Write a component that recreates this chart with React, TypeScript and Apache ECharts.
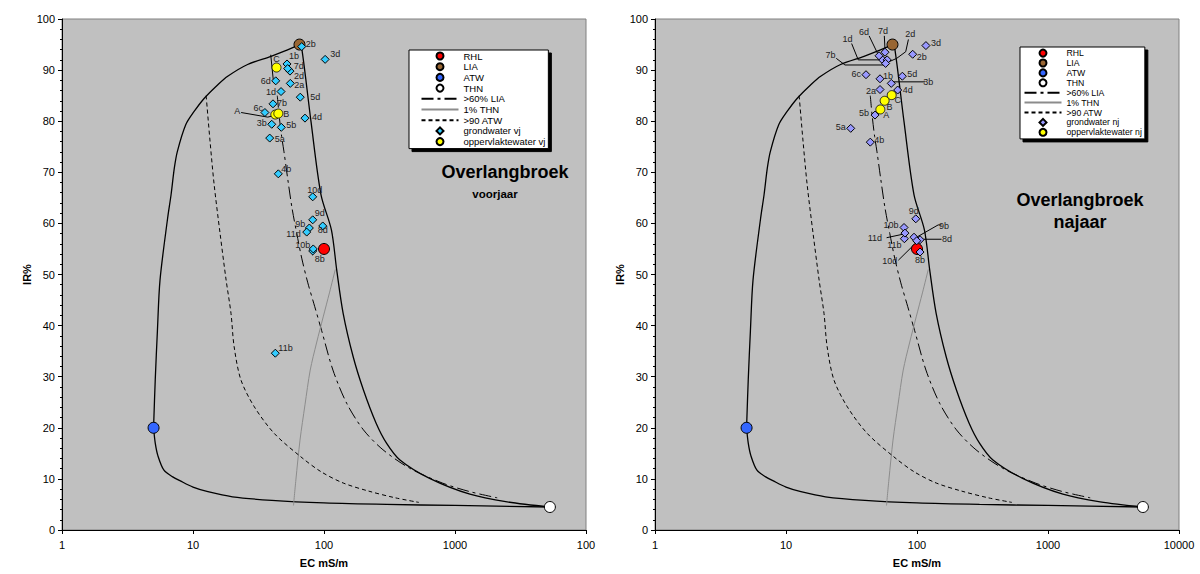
import { useEffect, useRef } from "react";
import * as echarts from "echarts";

const FONT = "'Liberation Sans', Arial, Helvetica, sans-serif";

// End members (EC in mS/m, IR in %)
const endmemberNames = ["RHL", "LIA", "ATW", "THN"];
const endmemberEC = [100, 65, 5, 5300];
const endmemberIR = [55, 95, 20, 4.5];
const endmemberColors = ["#ff0000", "#996633", "#3366ff", "#ffffff"];

// Groundwater samples
const wellNames = ["1b", "1d", "2a", "2b", "2d", "3b", "3d", "4b", "4d", "5a", "5b", "5d", "6c", "6d", "7b", "7d", "8b", "8d", "9b", "9d", "10b", "10d", "11b", "11d"];
const wellSpringEC = [52.2, 47.0, 55.3, 67.6, 55.0, 39.9, 102, 44.8, 71.6, 38.5, 47.2, 65.9, 35.4, 42.8, 40.8, 52.8, 82, 97.8, 77.3, 82, 82.8, 82, 42.5, 73.8];
const wellSpringIR = [91.2, 85.8, 87.4, 94.6, 89.8, 79.4, 92.1, 69.7, 80.6, 76.7, 78.8, 84.7, 81.7, 87.9, 83.4, 90.3, 54.6, 59.5, 59.1, 60.7, 55.0, 65.2, 34.6, 58.3];
const wellAutumnEC = [52.2, 54.6, 52.2, 92.7, 59.2, 63.6, 117, 44.0, 71.2, 31.2, 47.8, 77.3, 40.8, 51.3, 57.6, 57.0, 105.5, 105.5, 94.9, 97.9, 79.6, 99.5, 80.1, 80.9];
const wellAutumnIR = [88.3, 92.0, 86.2, 93.1, 92.0, 87.4, 94.8, 75.9, 86.1, 78.6, 81.2, 88.8, 89.1, 92.8, 91.3, 93.5, 54.4, 56.8, 57.3, 60.9, 59.2, 56.6, 57.0, 58.1];

// Surface water samples
const surfaceNames = ["A", "B", "C"];
const surfaceSpringEC = [42.5, 44.8, 43.4];
const surfaceSpringIR = [81.3, 81.5, 90.5];
const surfaceAutumnEC = [52.5, 56.6, 64.1];
const surfaceAutumnIR = [82.3, 84.0, 85.1];

// Mixing lines between end members ([EC, IR])
const curveAtwLia = [[5, 20], [5.15, 29.4], [5.35, 39], [5.6, 48.9], [6.4, 61], [6.8, 65.6], [7.2, 70.8], [7.6, 74.1], [8.8, 79.3], [10.2, 81.9], [12.2, 84.5], [15.4, 87.1], [18.4, 88.8], [26.1, 91.1], [39.4, 92.7], [49.8, 93.7], [65, 95]];
const curveAtwThn = [[5, 20], [5.15, 17], [5.4, 14.5], [6, 11.7], [7, 10.4], [8, 9.6], [10, 8.4], [13, 7.5], [20, 6.5], [40, 5.8], [100, 5.3], [300, 5], [1000, 4.8], [5300, 4.5]];
const curveLiaThn = [[65, 95], [67.6, 94.3], [79.5, 80], [94.9, 65.6], [114, 58.7], [125, 50.9], [140, 42.4], [167, 33.9], [200, 27.4], [250, 20.9], [300, 17], [380, 13.7], [640, 10.1], [1300, 7], [2500, 5.5], [5300, 4.5]];
const curveLia60 = [[44, 85], [45.5, 81], [47.5, 77], [49.5, 74], [53, 68.5], [57, 63], [62, 58], [67.6, 53.2], [75, 48.5], [85, 43.7], [96, 39], [117, 31.3], [149, 24.8], [200, 19.6], [282, 15.7], [450, 12.1], [800, 9.2], [1300, 7.5], [2100, 6.3]];
const curveThn1 = [[58.5, 4.8], [61, 9.8], [65.6, 17.6], [71.6, 24.5], [78.5, 31.3], [87.7, 36.6], [98.6, 41.7], [110, 46.4], [122, 51]];
const curveAtw90 = [[12.6, 85], [13.5, 76], [14.5, 67.6], [16.1, 58], [17.9, 48.9], [19.5, 42.4], [20.6, 35.9], [23.2, 29.4], [29.4, 24.1], [41.7, 18.9], [66.7, 14.3], [95, 11.4], [140, 9.2], [220, 7.6], [350, 6.3], [530, 5.4]];

// Leader lines from moved labels to their points
const leadersSpring = [
  [[23.3, 81.7], [37.2, 80.8], [41.5, 81.1]],
  [[39.2, 93.0], [41.0, 88.1]],
];
const leadersAutumn = [
  [[31.7, 95.2], [35.6, 92.0], [53.7, 92.0]],
  [[24.2, 92.3], [28.2, 91.0], [57.0, 91.0]],
  [[43.1, 96.7], [50.6, 93.0]],
  [[56.3, 96.7], [57.0, 93.9]],
  [[86, 96], [82, 93.6], [70, 92.3], [62, 91.7]],
  [[65.7, 87.7], [115, 87.7]],
  [[58.6, 57.2], [78.6, 57.9]],
  [[154, 59.7], [145, 59.7], [101, 57.4]],
  [[108, 56.9], [154, 56.9]],
  [[72.1, 52.8], [98.2, 56.2]],
];

const xTickLabelsSpring = ["1", "10", "100", "1000", "100"];
const xTickLabelsAutumn = ["1", "10", "100", "1000", "10000"];

// Label placement: [dx, dy, align]
type Place = [number, number, "left" | "right" | "center"];
const springPlace: Record<string, Place> = {
  "2b": [4, -3, "left"], "1b": [2, -8, "left"], "7d": [6, -3, "left"], "2d": [4, 4.5, "left"],
  "6d": [-5, 0, "right"], "2a": [4, 2, "left"], "1d": [-5, 0, "right"], "5d": [10, 0, "left"],
  "7b": [4, -1, "left"], "6c": [-2, -5, "right"], "4d": [7, -1, "left"], "3b": [-5, -1, "right"],
  "5b": [5, -2, "left"], "5a": [5, 1, "left"], "4b": [3, -5, "left"], "10d": [2, -7, "center"],
  "9d": [2, -7, "left"], "9b": [-4, -4, "right"], "11d": [-6, 2, "right"], "10b": [-3, -4, "right"],
  "8b": [7, 8, "center"], "8d": [0, 4, "center"], "3d": [5, -5, "left"], "11b": [3, -5, "left"],
  A: [-35, -4, "right"], B: [5, 0, "left"], C: [0, -9, "center"],
};
const autumnPlace: Record<string, Place> = {
  "7d": [-2, -21, "center"], "6d": [-15, -24, "center"], "1d": [-35, -21, "center"], "7b": [-55, -8, "center"],
  "2d": [23, -26, "center"], "2b": [4, 3, "left"], "3d": [5, -3, "left"], "6c": [-5, -1, "right"],
  "1b": [3, -3, "left"], "5d": [5, -2, "left"], "3b": [32, -1, "left"], "2a": [-4, 1, "right"],
  "4d": [5, 0, "left"], "5b": [-6, -2, "right"], "5a": [-5, -1, "right"], "4b": [4, -2, "left"],
  "9d": [-2, -8, "center"], "10b": [-13, -2, "center"], "11d": [-30, 5, "center"], "11b": [-10, 6, "center"],
  "9b": [30, -11, "center"], "10d": [-27, 20, "center"], "8d": [27, -1, "center"], "8b": [0, 8, "center"],
  C: [6, 5, "center"], B: [5, 6, "center"], A: [6, 6, "center"],
};

function labelled(names: string[], xs: number[], ys: number[], place: Record<string, Place>) {
  return names.map((name, i) => {
    const p = place[name] || [4, 0, "left"];
    return {
      name,
      value: [xs[i], ys[i]],
      label: { offset: [p[0], p[1]], align: p[2] },
    };
  });
}

function seriesFor(g: number, season: string, wellColor: string, wellEC: number[], wellIR: number[], swEC: number[], swIR: number[], place: Record<string, Place>, leaders: number[][][]) {
  const axes = { xAxisIndex: g, yAxisIndex: g };
  const curve = (name: string, data: number[][], lineStyle: any) => ({
    type: "line", name, data, ...axes, smooth: 0.3, symbol: "none", showSymbol: false, silent: true,
    lineStyle, itemStyle: { color: lineStyle.color }, z: 2,
  });
  const pointLabel = {
    show: true, formatter: "{b}", position: "inside", verticalAlign: "middle",
    fontFamily: FONT, fontSize: 9, color: "#222",
  };
  const list: any[] = [
    curve("ATW-LIA", curveAtwLia, { color: "#000", width: 1.3 }),
    curve("LIA-THN", curveLiaThn, { color: "#000", width: 1.3 }),
    curve("ATW-THN", curveAtwThn, { color: "#000", width: 1.3 }),
    curve(">60% LIA", curveLia60, { color: "#000", width: 1, type: [12, 4, 3, 4] }),
    curve("1% THN", curveThn1, { color: "#8c8c8c", width: 1 }),
    curve(">90 ATW", curveAtw90, { color: "#000", width: 1, type: [4, 3] }),
    {
      type: "lines", name: "leaders", coordinateSystem: "cartesian2d", ...axes, polyline: true, silent: true,
      data: leaders.map((coords) => ({ coords })),
      lineStyle: { color: "#000", width: 1, opacity: 1 }, z: 3,
    },
  ];
  endmemberNames.forEach((name, i) => {
    list.push({
      type: "scatter", name, ...axes, symbol: "circle", symbolSize: 11, z: 4,
      data: [[endmemberEC[i], endmemberIR[i]]],
      itemStyle: { color: endmemberColors[i], borderColor: "#000", borderWidth: 1, opacity: 1 },
    });
  });
  list.push({
    type: "scatter", name: `grondwater ${season}`, ...axes, symbol: "diamond", symbolSize: 8, z: 5,
    data: labelled(wellNames, wellEC, wellIR, place),
    itemStyle: { color: wellColor, borderColor: "#000", borderWidth: 1, opacity: 1 },
    label: pointLabel,
  });
  list.push({
    type: "scatter", name: `oppervlaktewater ${season}`, ...axes, symbol: "circle", symbolSize: 9, z: 5,
    data: labelled(surfaceNames, swEC, swIR, place),
    itemStyle: { color: "#ffff00", borderColor: "#000", borderWidth: 0.8, opacity: 1 },
    label: pointLabel,
  });
  return list;
}

function xAxisFor(g: number, ticks: string[]) {
  return {
    type: "log", logBase: 10, min: 1, max: 10000, gridIndex: g,
    axisLine: { show: true, onZero: false, lineStyle: { color: "#000", width: 1 } },
    axisTick: { show: true, length: 4, lineStyle: { color: "#000" } },
    axisLabel: {
      fontFamily: FONT, fontSize: 11, color: "#000", margin: 9,
      formatter: (v: number) => ticks[Math.round(Math.log10(v))] ?? "",
    },
    splitLine: { show: false },
    name: "EC mS/m", nameLocation: "middle", nameGap: 27,
    nameTextStyle: { fontFamily: FONT, fontWeight: "bold", fontSize: 11, color: "#000" },
  };
}

function yAxisFor(g: number) {
  return {
    type: "value", min: 0, max: 100, interval: 10, gridIndex: g,
    axisLine: { show: true, lineStyle: { color: "#000", width: 1 } },
    axisTick: { show: true, length: 4, lineStyle: { color: "#000" } },
    minorTick: { show: true, splitNumber: 5, length: 2, lineStyle: { color: "#000" } },
    axisLabel: { fontFamily: FONT, fontSize: 11, color: "#000", margin: 7 },
    splitLine: { show: false },
    minorSplitLine: { show: false },
    name: "IR%", nameLocation: "middle", nameGap: 30,
    nameTextStyle: { fontFamily: FONT, fontWeight: "bold", fontSize: 11, color: "#000" },
  };
}

const lineLegendNames = [">60% LIA", "1% THN", ">90 ATW"];
// Small diamond centred in the full legend swatch box, so it is not stretched
const DIAMOND_ICON = "path://M0,0M37,7M18.5,0L22,3.5L18.5,7L15,3.5Z";

function legendFor(season: string, left: number, top: number, padding: number[], fontSize: number, lineHeight: number) {
  const wells = `grondwater ${season}`;
  const names = ["RHL", "LIA", "ATW", "THN", ">60% LIA", "1% THN", ">90 ATW", wells, `oppervlaktewater ${season}`];
  return {
    orient: "vertical", left, top, itemWidth: 37, itemHeight: 7, itemGap: 0.7, padding,
    symbolKeepAspect: true,
    backgroundColor: "#fff", borderColor: "#000", borderWidth: 1,
    shadowColor: "#000", shadowOffsetX: 3, shadowOffsetY: 3, shadowBlur: 0,
    selectedMode: false,
    textStyle: { fontFamily: FONT, fontSize, color: "#000", lineHeight },
    data: names.map((name) => {
      if (lineLegendNames.includes(name)) return { name, itemStyle: { opacity: 0 } };
      if (name === wells) return { name, icon: DIAMOND_ICON };
      return { name };
    }),
  };
}

function titleText(text: string, x: number, y: number, size: number) {
  return {
    type: "text", x, y, z: 10, silent: true,
    style: { text, fill: "#000", fontFamily: FONT, fontWeight: "bold", fontSize: size, align: "center", verticalAlign: "middle" },
  };
}

export default function App() {
  const ref = useRef<HTMLDivElement>(null);
  useEffect(() => {
    if (!ref.current) return;
    const chart = echarts.init(ref.current, undefined, { renderer: "svg" });
    const gridBase = { show: true, backgroundColor: "#c0c0c0", borderColor: "#808080", borderWidth: 1, top: 19, height: 511, width: 524 };
    chart.setOption({
      animation: false,
      grid: [
        { ...gridBase, left: 62 },
        { ...gridBase, left: 655 },
      ],
      xAxis: [xAxisFor(0, xTickLabelsSpring), xAxisFor(1, xTickLabelsAutumn)],
      yAxis: [yAxisFor(0), yAxisFor(1)],
      legend: [
        legendFor("vj", 409, 50, [1, 3, 2, 11.5], 9.5, 10),
        legendFor("nj", 1020, 47, [1.5, 3, 2, 3.5], 8.7, 9.2),
      ],
      graphic: [
        titleText("Overlangbroek", 505, 172, 18),
        titleText("voorjaar", 495, 194, 11.5),
        titleText("Overlangbroek", 1080, 200, 18),
        titleText("najaar", 1080, 222, 18),
      ],
      series: [
        ...seriesFor(0, "vj", "#33ccff", wellSpringEC, wellSpringIR, surfaceSpringEC, surfaceSpringIR, springPlace, leadersSpring),
        ...seriesFor(1, "nj", "#9999ff", wellAutumnEC, wellAutumnIR, surfaceAutumnEC, surfaceAutumnIR, autumnPlace, leadersAutumn),
      ],
    });
    return () => chart.dispose();
  }, []);
  return <div ref={ref} style={{ position: "fixed", left: 0, top: 0, width: 1200, height: 574, background: "#fff" }} />;
}
